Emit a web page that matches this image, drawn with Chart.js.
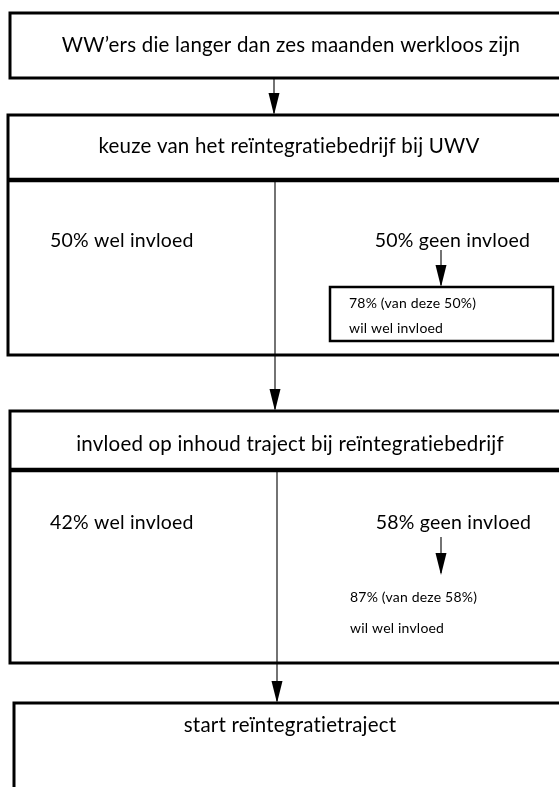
<!DOCTYPE html>
<html>
<head>
<meta charset="utf-8">
<script src="https://cdn.jsdelivr.net/npm/chart.js@4.4.0/dist/chart.umd.min.js"></script>
<style>
  html, body { margin: 0; padding: 0; background: #fff; }
  #flow { display: block; }
</style>
</head>
<body>
<canvas id="flow" width="559" height="787"></canvas>
<script>
// data
var stepLabels = [
  "WW\u2019ers die langer dan zes maanden werkloos zijn",
  "keuze van het re\u00efntegratiebedrijf bij UWV",
  "invloed op inhoud traject bij re\u00efntegratiebedrijf",
  "start re\u00efntegratietraject"
];
var welInvloed = [50, 42];     // % wel invloed per stap
var geenInvloed = [50, 58];    // % geen invloed per stap
var wilWel = [78, 87];         // % van de groep zonder invloed die wel invloed wil

// layout (page units, y runs down)
var boxes = [
  {x: 10, y: 13, h: 65},
  {x: 8, y: 115, h: 240, head: 65, split: 275},
  {x: 10, y: 411, h: 252, head: 59, split: 277},
  {x: 14, y: 703, h: 120}
];
var subBox = {x: 330, y: 287, w: 223, h: 54};

var FONT = "Lato, 'Open Sans', sans-serif";

var flowPlugin = {
  id: 'flow',
  afterDraw: function(chart) {
    var ctx = chart.ctx;
    var sx = chart.scales.x, sy = chart.scales.y;
    function X(v) { return sx.getPixelForValue(v); }
    function Y(v) { return sy.getPixelForValue(v); }

    function line(x1, y1, x2, y2, w) {
      ctx.beginPath();
      ctx.lineWidth = w;
      ctx.moveTo(X(x1), Y(y1));
      ctx.lineTo(X(x2), Y(y2));
      ctx.stroke();
    }
    function arrow(x, y1, y2) {
      line(x, y1, x, y2 - 2, 1.1);
      ctx.beginPath();
      ctx.moveTo(X(x) - 5.5, Y(y2) - 22);
      ctx.lineTo(X(x) + 5.5, Y(y2) - 22);
      ctx.lineTo(X(x), Y(y2));
      ctx.closePath();
      ctx.fill();
    }
    function text(s, x, y, size, align) {
      ctx.font = size + "px " + FONT;
      ctx.textAlign = align || 'left';
      ctx.textBaseline = 'middle';
      ctx.fillText(s, X(x), Y(y));
    }

    ctx.save();
    ctx.strokeStyle = '#000';
    ctx.fillStyle = '#000';
    if ('letterSpacing' in ctx) ctx.letterSpacing = '0.2px'; // geen ti-ligatuur

    // boxes
    boxes.forEach(function(b) {
      ctx.lineWidth = 3;
      ctx.strokeRect(X(b.x), Y(b.y), X(600) - X(b.x), Y(b.y + b.h) - Y(b.y));
      if (b.head) {
        line(b.x, b.y + b.head, 600, b.y + b.head, 4.5);
      }
    });

    // main flow arrows
    arrow(274, boxes[0].y + boxes[0].h, boxes[1].y);
    line(boxes[1].split, boxes[1].y + boxes[1].head, boxes[1].split, boxes[1].y + boxes[1].h, 1.1);
    arrow(boxes[1].split, boxes[1].y + boxes[1].h, boxes[2].y);
    line(boxes[2].split, boxes[2].y + boxes[2].head, boxes[2].split, boxes[2].y + boxes[2].h, 1.1);
    arrow(boxes[2].split, boxes[2].y + boxes[2].h, boxes[3].y);

    // sub box step 1
    ctx.lineWidth = 2.5;
    ctx.strokeRect(X(subBox.x), Y(subBox.y), X(subBox.x + subBox.w) - X(subBox.x), Y(subBox.y + subBox.h) - Y(subBox.y));
    arrow(441, 250, subBox.y);
    arrow(441, 537, 575);

    // headers
    text(stepLabels[0], 291, 45, 20.5, 'center');
    text(stepLabels[1], 289, 146, 20.5, 'center');
    text(stepLabels[2], 290, 444, 20.5, 'center');
    text(stepLabels[3], 290, 725, 20.5, 'center');

    // splits
    text(welInvloed[0] + "% wel invloed", 50, 241, 19.5);
    text(geenInvloed[0] + "% geen invloed", 530, 241, 19.5, 'right');
    text(wilWel[0] + "% (van deze " + geenInvloed[0] + "%)", 349, 303, 14);
    text("wil wel invloed", 349, 328, 14);

    text(welInvloed[1] + "% wel invloed", 50, 523, 19.5);
    text(geenInvloed[1] + "% geen invloed", 531, 523, 19.5, 'right');
    text(wilWel[1] + "% (van deze " + geenInvloed[1] + "%)", 350, 597, 14);
    text("wil wel invloed", 350, 628, 14);

    ctx.restore();
  }
};

new Chart(document.getElementById('flow'), {
  type: 'scatter',
  data: { datasets: [{ data: [], pointRadius: 0 }] },
  options: {
    responsive: false,
    animation: false,
    layout: { padding: 0 },
    plugins: { legend: { display: false }, tooltip: { enabled: false } },
    scales: {
      x: { type: 'linear', min: 0, max: 559, display: false },
      y: { type: 'linear', min: 0, max: 787, reverse: true, display: false }
    }
  },
  plugins: [flowPlugin]
});
</script>
</body>
</html>
